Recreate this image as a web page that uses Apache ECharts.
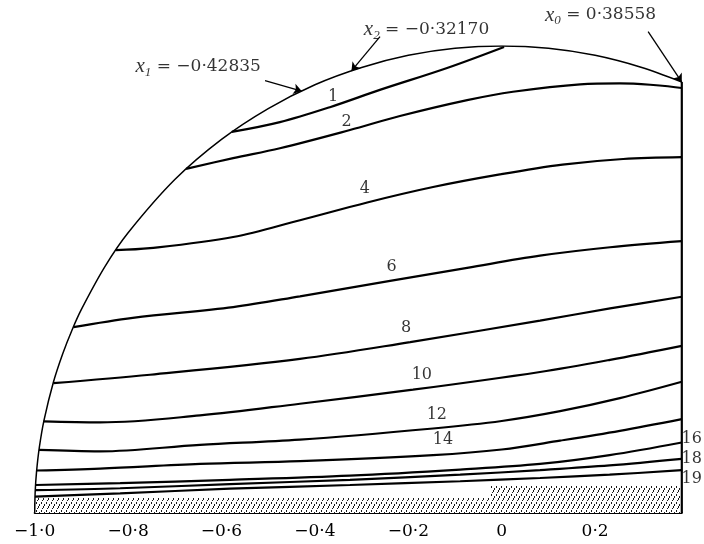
<!DOCTYPE html>
<html><head><meta charset="utf-8">
<script src="https://cdn.jsdelivr.net/npm/echarts@6/dist/echarts.min.js"></script>
<style>html,body{margin:0;padding:0;background:#fff}#c{width:704px;height:544px}</style>
</head><body><div id="c"></div>
<script>
// ---- axis ----
const xMin = -1.0, xMax = 0.38558;
const tickLabelValues = [-1.0, -0.8, -0.6, -0.4, -0.2, 0, 0.2];
const tickLabelTexts  = ['−1·0', '−0·8', '−0·6', '−0·4', '−0·2', '0', '0·2'];

// ---- outer boundary ----
const boundaryX = [-1.0, -0.999, -0.996, -0.99, -0.98, -0.96, -0.94, -0.92, -0.9, -0.85, -0.8, -0.7, -0.6, -0.5, -0.4, -0.3, -0.2, -0.1, 0.0, 0.1, 0.2, 0.3, 0.38558];
const boundaryY = [0.0, 0.045, 0.089, 0.141, 0.199, 0.28, 0.341, 0.392, 0.436, 0.527, 0.6, 0.714, 0.8, 0.866, 0.917, 0.954, 0.98, 0.995, 1.0, 0.995, 0.98, 0.954, 0.923];

// ---- contour lines ----
const line1X  = [-0.578, -0.475, -0.368, -0.261, -0.117, 0.005];
const line1Y  = [0.816, 0.837, 0.869, 0.906, 0.953, 0.998];
const line2X  = [-0.676, -0.575, -0.475, -0.325, -0.218, -0.074, 0.024, 0.168, 0.253, 0.318, 0.38558];
const line2Y  = [0.737, 0.760, 0.781, 0.820, 0.850, 0.884, 0.902, 0.918, 0.920, 0.917, 0.910];
const line4X  = [-0.826, -0.753, -0.575, -0.432, -0.288, -0.147, -0.004, 0.130, 0.260, 0.38558];
const line4Y  = [0.563, 0.567, 0.591, 0.627, 0.665, 0.698, 0.725, 0.746, 0.758, 0.762];
const line6X  = [-0.917, -0.790, -0.575, -0.432, -0.239, -0.074, 0.082, 0.232, 0.38558];
const line6Y  = [0.398, 0.418, 0.441, 0.464, 0.497, 0.525, 0.551, 0.569, 0.582];
const line8X  = [-0.960, -0.753, -0.432, -0.196, 0.082, 0.232, 0.38558];
const line8Y  = [0.278, 0.296, 0.330, 0.366, 0.412, 0.438, 0.463];
const line10X = [-0.981, -0.860, -0.646, -0.432, -0.190, 0.082, 0.232, 0.38558];
const line10Y = [0.196, 0.194, 0.209, 0.234, 0.264, 0.302, 0.328, 0.358];
const line12X = [-0.991, -0.860, -0.646, -0.432, -0.147, 0.0, 0.125, 0.253, 0.38558];
const line12Y = [0.135, 0.132, 0.146, 0.157, 0.181, 0.197, 0.218, 0.246, 0.281];
const line14X = [-0.996, -0.860, -0.646, -0.432, -0.147, 0.0, 0.125, 0.253, 0.38558];
const line14Y = [0.091, 0.095, 0.105, 0.111, 0.124, 0.136, 0.155, 0.176, 0.201];
const line16X = [-0.998, -0.817, -0.582, -0.325, -0.089, 0.082, 0.231, 0.38558];
const line16Y = [0.060, 0.064, 0.071, 0.080, 0.093, 0.105, 0.124, 0.151];
const line18X = [-0.999, -0.817, -0.582, -0.325, -0.089, 0.082, 0.231, 0.38558];
const line18Y = [0.049, 0.053, 0.062, 0.071, 0.082, 0.092, 0.102, 0.116];
const line19X = [-0.9994, -0.817, -0.582, -0.325, -0.089, 0.082, 0.231, 0.38558];
const line19Y = [0.035, 0.042, 0.052, 0.060, 0.068, 0.075, 0.082, 0.092];

// ---- hatched ground ----
const groundX = [-1.0, -0.025, -0.025, 0.38558];
const groundY = [0.032, 0.032, 0.060, 0.060];

// ---- contour labels ----
const contourLabelTexts = ['1', '2', '4', '6', '8', '10', '12', '14', '16', '18', '19'];
const contourLabelX = [-0.361, -0.332, -0.293, -0.236, -0.205, -0.171, -0.139, -0.126, 0.407, 0.407, 0.407];
const contourLabelY = [0.891, 0.838, 0.695, 0.527, 0.396, 0.296, 0.210, 0.156, 0.158, 0.115, 0.074];

// ---- annotations x1, x2, x0 ----
const annotSub   = ['1', '2', '0'];
const annotValue = ['−0·42835', '−0·32170', '0·38558'];
const annotTextX = [-0.650, -0.161, 0.2116];
const annotTextY = [0.9557, 1.0345, 1.0664];
const arrowFromX = [-0.5068, -0.2606, 0.3135];
const arrowFromY = [0.9257, 1.0199, 1.0306];
const arrowToX   = [-0.42835, -0.32170, 0.38558];
const arrowToY   = [0.9036, 0.9468, 0.9227];

const zip = (xs, ys) => xs.map((x, i) => [x, ys[i]]);

// hatch pattern: steep broken strokes drawn pixel by pixel
const pc = document.createElement('canvas');
pc.width = 5; pc.height = 8;
const g = pc.getContext('2d');
g.fillStyle = '#fff'; g.fillRect(0, 0, 5, 8);
g.fillStyle = '#1a1a1a';
[[4,0],[4,1],[3,2],[3,3],[2,4],[1,6],[1,7]].forEach(p => g.fillRect(p[0], p[1], 1, 1));

const contours = [
  [line1X, line1Y], [line2X, line2Y], [line4X, line4Y], [line6X, line6Y], [line8X, line8Y],
  [line10X, line10Y], [line12X, line12Y], [line14X, line14Y], [line16X, line16Y], [line18X, line18Y], [line19X, line19Y]
];

const series = [];
series.push({
  type: 'line', name: 'ground', data: zip(groundX, groundY), symbol: 'none', silent: true,
  lineStyle: { width: 0 }, areaStyle: { color: { image: pc, repeat: 'repeat' }, opacity: 1, origin: 'start' }, z: 1
});
series.push({
  type: 'line', name: 'boundary', data: zip(boundaryX, boundaryY), symbol: 'none', smooth: 0.3, silent: true,
  lineStyle: { color: '#000', width: 1.5 }, z: 3
});
series.push({
  type: 'line', name: 'rightEdge', data: [[xMax, 0], [xMax, boundaryY[boundaryY.length - 1]]], symbol: 'none', silent: true,
  lineStyle: { color: '#000', width: 2.2 }, z: 3
});
contours.forEach((c, i) => {
  series.push({
    type: 'line', name: 'c' + contourLabelTexts[i], data: zip(c[0], c[1]), symbol: 'none', smooth: 0.35, silent: true,
    lineStyle: { color: '#000', width: 2.2 }, z: 3
  });
});
series.push({
  type: 'scatter', name: 'labels', data: zip(contourLabelX, contourLabelY), symbolSize: 0, clip: false, silent: true,
  label: { show: true, position: 'inside', formatter: p => contourLabelTexts[p.dataIndex],
    fontFamily: 'DejaVu Serif', fontSize: 16, color: '#000' }, z: 5
});
series.push({
  type: 'scatter', name: 'annot', data: zip(annotTextX, annotTextY), symbolSize: 0, clip: false, silent: true,
  label: { show: true, position: 'inside',
    formatter: p => '{i|x}{s|' + annotSub[p.dataIndex] + '}{n| = ' + annotValue[p.dataIndex] + '}',
    rich: {
      i: { fontFamily: 'Liberation Serif', fontStyle: 'italic', fontSize: 21, lineHeight: 24, color: '#000' },
      s: { fontFamily: 'Liberation Serif', fontStyle: 'italic', fontSize: 13, lineHeight: 13, verticalAlign: 'bottom', color: '#000' },
      n: { fontFamily: 'DejaVu Serif', fontSize: 17, lineHeight: 24, color: '#000' }
    } }, z: 5
});
series.push({
  type: 'lines', coordinateSystem: 'cartesian2d', name: 'arrows', silent: true, clip: false,
  data: arrowFromX.map((x, i) => ({ coords: [[x, arrowFromY[i]], [arrowToX[i], arrowToY[i]]] })),
  symbol: ['none', 'arrow'], symbolSize: 8,
  lineStyle: { color: '#000', width: 1.3, curveness: 0, opacity: 1 }, z: 4
});

const chart = echarts.init(document.getElementById('c'), null, { renderer: 'canvas' });
chart.setOption({
  animation: false,
  backgroundColor: '#fff',
  grid: { left: 34.7, right: 22.2, top: 46, bottom: 31, containLabel: false },
  xAxis: {
    type: 'value', min: xMin, max: xMax, interval: 0.1,
    axisLine: { show: true, onZero: false, lineStyle: { color: '#000', width: 2 } },
    axisTick: { show: true, inside: true, length: 10, lineStyle: { color: '#000', width: 1.6 } },
    splitLine: { show: false },
    axisLabel: {
      show: true, margin: 10, showMaxLabel: false, color: '#000', fontFamily: 'DejaVu Serif', fontSize: 17,
      formatter: v => {
        const k = tickLabelValues.findIndex(t => Math.abs(t - v) < 1e-6);
        return k >= 0 ? tickLabelTexts[k] : '';
      }
    }
  },
  yAxis: { type: 'value', min: 0, max: 1, show: false, splitLine: { show: false } },
  series: series
});
</script>
</body></html>
